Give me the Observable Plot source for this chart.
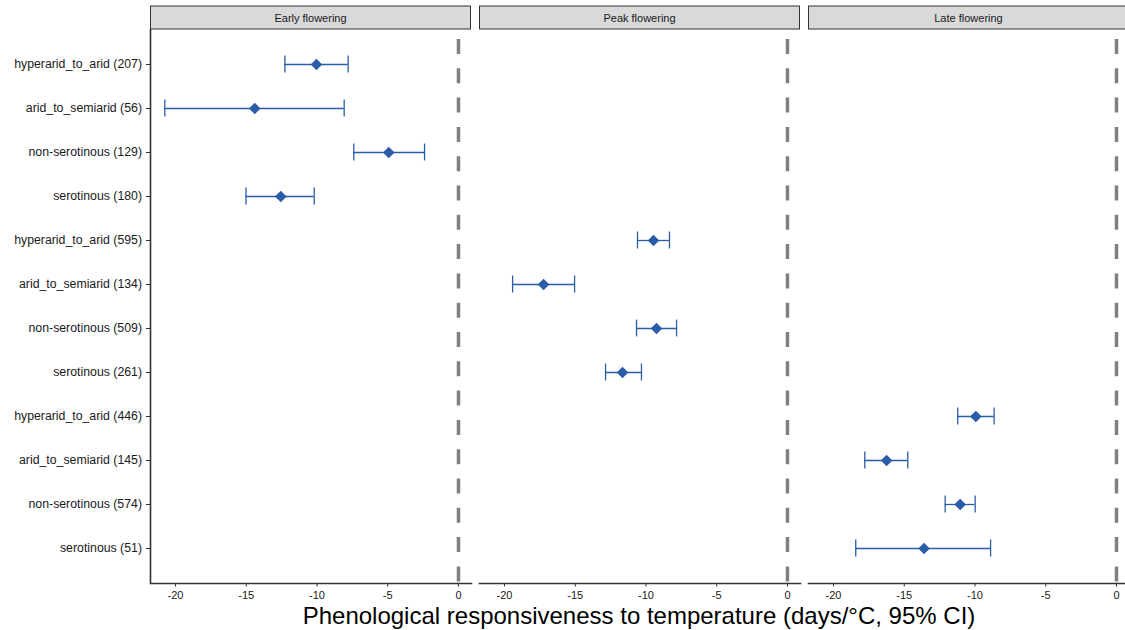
<!DOCTYPE html>
<html>
<head>
<meta charset="utf-8">
<script src="https://cdn.jsdelivr.net/npm/d3@7"></script>
<script src="https://cdn.jsdelivr.net/npm/@observablehq/plot@0.6"></script>
<style>
  html, body { margin: 0; background: #fff; overflow: hidden; font-family: "Liberation Sans", Arial, sans-serif; }
  #wrap { width: 1125px; height: 630px; overflow: hidden; }
  #chart svg { display: block; max-width: none !important; }
  #xtitle { width: 1130px; padding-left: 149px; box-sizing: border-box; margin-top: -1px;
            font-size: 24px; line-height: 28px; color: #000; white-space: nowrap; }
  #xtitle span { display: inline-block; width: 980px; text-align: center; }
</style>
</head>
<body>
<div id="wrap"><div id="chart"></div><div id="xtitle"><span>Phenological responsiveness to temperature (days/°C, 95% CI)</span></div></div>
<script>
const stages = ["Early flowering", "Peak flowering", "Late flowering"];
const categories = [
  "hyperarid_to_arid (207)", "arid_to_semiarid (56)", "non-serotinous (129)", "serotinous (180)",
  "hyperarid_to_arid (595)", "arid_to_semiarid (134)", "non-serotinous (509)", "serotinous (261)",
  "hyperarid_to_arid (446)", "arid_to_semiarid (145)", "non-serotinous (574)", "serotinous (51)"
];
const rowStage = [
  "Early flowering", "Early flowering", "Early flowering", "Early flowering",
  "Peak flowering", "Peak flowering", "Peak flowering", "Peak flowering",
  "Late flowering", "Late flowering", "Late flowering", "Late flowering"
];
const estimate = [-10.04, -14.4, -4.93, -12.56, -9.47, -17.24, -9.26, -11.66, -9.94, -16.25, -11.05, -13.6];
const lower    = [-12.27, -20.76, -7.4, -15.02, -10.6, -19.43, -10.67, -12.86, -11.22, -17.79, -12.11, -18.43];
const upper    = [-7.8, -8.08, -2.4, -10.2, -8.34, -15.05, -7.84, -10.32, -8.65, -14.75, -9.99, -8.9];
const xTicks = [-20, -15, -10, -5, 0];
const xDomain = [-21.77, 0.92];

const data = categories.map((c, i) => ({
  label: c, stage: rowStage[i], est: estimate[i], lo: lower[i], hi: upper[i]
}));

const blue = "#2A5CA8";
const ink = "#333333";

const plot = Plot.plot({
  width: 1130,
  height: 603,
  marginLeft: 149,
  marginRight: 1,
  marginTop: 29,
  marginBottom: 20,
  style: { fontFamily: "Liberation Sans, Arial, sans-serif", fontSize: "12px", color: "#1a1a1a", background: "#fff", overflow: "visible", maxWidth: "none" },
  fx: { domain: stages, paddingInner: 0.0258, paddingOuter: 0, axis: null, label: null },
  x: { domain: xDomain, label: null },
  y: { type: "band", domain: categories, paddingInner: 0, paddingOuter: 0.26, label: null },
  marks: [
    Plot.ruleX([0], { stroke: "#808080", strokeWidth: 3.5, strokeDasharray: "15,14.3", strokeDashoffset: 19.3 }),
    Plot.ruleY(data, { fx: "stage", y: "label", x1: "lo", x2: "hi", stroke: blue, strokeWidth: 1.3 }),
    Plot.tickX(data, { fx: "stage", y: "label", x: "lo", stroke: blue, strokeWidth: 1.3, insetTop: 13.5, insetBottom: 13.5 }),
    Plot.tickX(data, { fx: "stage", y: "label", x: "hi", stroke: blue, strokeWidth: 1.3, insetTop: 13.5, insetBottom: 13.5 }),
    Plot.dot(data, { fx: "stage", y: "label", x: "est", symbol: "diamond2", r: 5.2, fill: blue, stroke: "none" }),
    Plot.axisY({ tickSize: 4, tickPadding: 4.5, stroke: ink, strokeWidth: 1, fontSize: 12.3, label: null }),
    Plot.axisX({ ticks: xTicks, tickSize: 3.5, tickPadding: 4, stroke: ink, fontSize: 11, tickFormat: d => String(d), label: null }),
    Plot.frame({ anchor: "bottom", stroke: ink, strokeWidth: 1.6 }),
    Plot.ruleX([xDomain[0]], { fx: () => stages[0], x: d => d, stroke: ink, strokeWidth: 1.6 })
  ]
});

document.getElementById("chart").appendChild(plot);

// facet strip headers positioned with the fx scale
const fx = plot.scale("fx");
const svg = d3.select(plot);
const g = svg.append("g");
for (const s of stages) {
  const x0 = fx.apply(s);
  const bw = fx.bandwidth;
  g.append("rect").attr("x", x0 + 0.5).attr("y", 6).attr("width", bw - 1).attr("height", 23)
    .attr("fill", "#D9D9D9").attr("stroke", "#333").attr("stroke-width", 1);
  g.append("text").attr("x", x0 + bw / 2).attr("y", 21.5).attr("text-anchor", "middle")
    .attr("font-size", 11).attr("fill", "#1a1a1a").text(s);
}
</script>
</body>
</html>
